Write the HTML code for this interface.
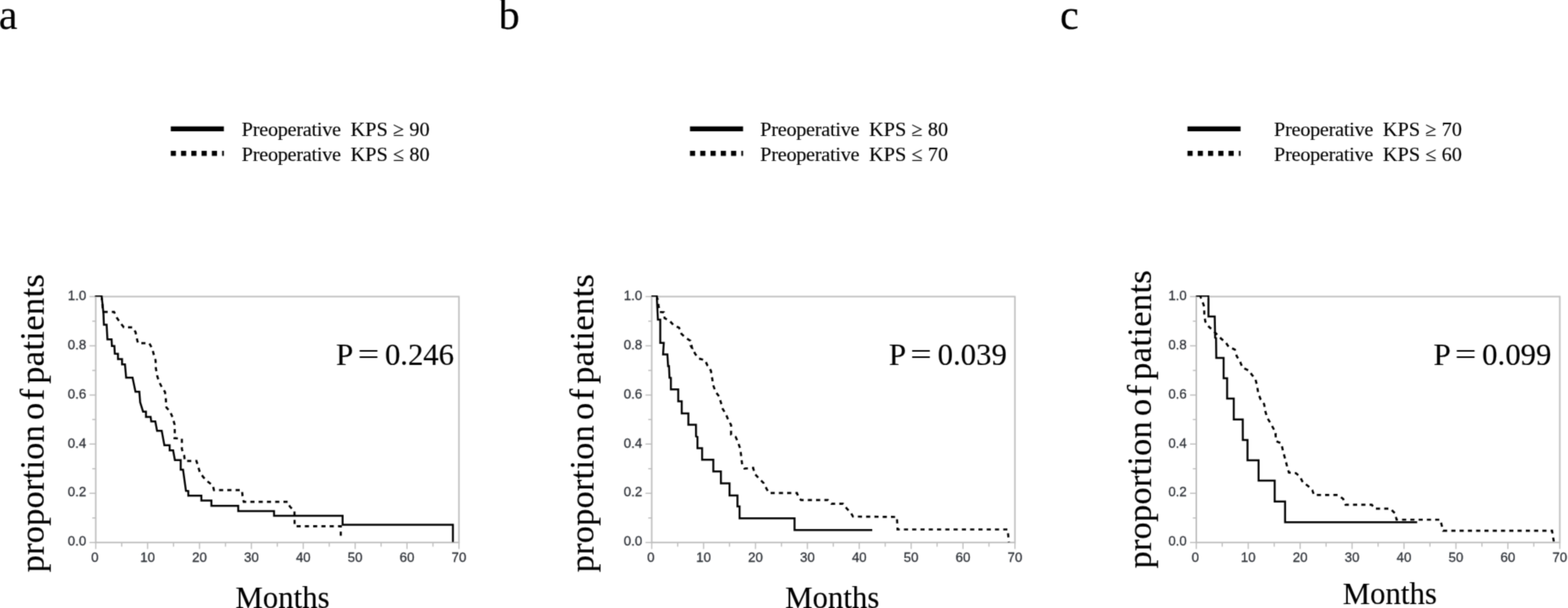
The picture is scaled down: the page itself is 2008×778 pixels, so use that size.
<!DOCTYPE html>
<html lang="en">
<head>
<meta charset="utf-8">
<title>Kaplan-Meier curves by preoperative KPS</title>
<style>
html,body{margin:0;padding:0;background:#fff;}
body{width:2008px;height:778px;overflow:hidden;}
svg{display:block;}
.serif{font-family:"Liberation Serif","DejaVu Serif",serif;fill:#000;stroke:#000;stroke-width:0.15;stroke-linejoin:round;}
.tick{font-family:"Liberation Sans","DejaVu Sans",sans-serif;font-size:17px;fill:#2f3339;stroke:#2f3339;stroke-width:0.3;}
.frame{fill:none;stroke:#bdbdbd;stroke-width:1.9;}
.tk{stroke:#bdbdbd;stroke-width:1.5;fill:none;}
.solid{fill:none;stroke:#000;stroke-width:2.5;stroke-linejoin:miter;stroke-linecap:butt;}
.dot{fill:none;stroke:#000;stroke-width:2.7;stroke-dasharray:5.3 5.3;stroke-linejoin:miter;}
</style>
</head>
<body>
<svg width="2008" height="778" viewBox="0 0 2008 778">
<defs><filter id="soft" x="0" y="0" width="2008" height="778" filterUnits="userSpaceOnUse"><feConvolveMatrix order="3" kernelMatrix="1 4 1 4 16 4 1 4 1" edgeMode="duplicate"/></filter></defs>
<rect x="0" y="0" width="2008" height="778" fill="#ffffff"/>
<g filter="url(#soft)">

<g>
<text class="serif" x="-1.6" y="37.4" font-size="54">a</text>
<line x1="218.7" y1="164.9" x2="286.7" y2="164.9" stroke="#000" stroke-width="6.1"/>
<line x1="218.7" y1="196.2" x2="286.7" y2="196.2" stroke="#000" stroke-width="6.4" stroke-dasharray="6.6 6.55"/>
<text class="serif" y="173.6" font-size="25.8"><tspan x="309.6" textLength="127.2" lengthAdjust="spacing">Preoperative</tspan> <tspan x="449.0" textLength="101.2" lengthAdjust="spacing">KPS ≥ 90</tspan></text>
<text class="serif" y="206.0" font-size="25.8"><tspan x="309.6" textLength="127.2" lengthAdjust="spacing">Preoperative</tspan> <tspan x="449.0" textLength="101.2" lengthAdjust="spacing">KPS ≤ 80</tspan></text>
<rect class="frame" x="122.6" y="379.5" width="465.1" height="314.70000000000005"/>
<path class="tk" d="M122.60,694.2 v8.4 M155.82,694.2 v5.2 M189.04,694.2 v8.4 M222.26,694.2 v5.2 M255.49,694.2 v8.4 M288.71,694.2 v5.2 M321.93,694.2 v8.4 M355.15,694.2 v5.2 M388.37,694.2 v8.4 M421.59,694.2 v5.2 M454.81,694.2 v8.4 M488.04,694.2 v5.2 M521.26,694.2 v8.4 M554.48,694.2 v5.2 M587.70,694.2 v8.4 M122.6,694.20 h-8.0 M122.6,662.73 h-4.4 M122.6,631.26 h-8.0 M122.6,599.79 h-4.4 M122.6,568.32 h-8.0 M122.6,536.85 h-4.4 M122.6,505.38 h-8.0 M122.6,473.91 h-4.4 M122.6,442.44 h-8.0 M122.6,410.97 h-4.4 M122.6,379.50 h-8.0"/>
<text class="tick" x="121.40" y="718.8" text-anchor="middle">0</text>
<text class="tick" x="189.04" y="718.8" text-anchor="middle">10</text>
<text class="tick" x="255.49" y="718.8" text-anchor="middle">20</text>
<text class="tick" x="321.93" y="718.8" text-anchor="middle">30</text>
<text class="tick" x="388.37" y="718.8" text-anchor="middle">40</text>
<text class="tick" x="454.81" y="718.8" text-anchor="middle">50</text>
<text class="tick" x="521.26" y="718.8" text-anchor="middle">60</text>
<text class="tick" x="587.70" y="718.8" text-anchor="middle">70</text>
<text class="tick" x="110.40" y="698.00" text-anchor="end">0.0</text>
<text class="tick" x="110.40" y="635.26" text-anchor="end">0.2</text>
<text class="tick" x="110.40" y="572.52" text-anchor="end">0.4</text>
<text class="tick" x="110.40" y="509.78" text-anchor="end">0.6</text>
<text class="tick" x="110.40" y="447.04" text-anchor="end">0.8</text>
<text class="tick" x="110.40" y="384.30" text-anchor="end">1.0</text>
<text class="serif" font-size="44.4" y="0" transform="translate(55.6,0) rotate(-90)"><tspan x="-732.6" textLength="188.6" lengthAdjust="spacing">proportion</tspan> <tspan x="-537.6" textLength="40.2" lengthAdjust="spacing">of</tspan> <tspan x="-491.2" textLength="140.6" lengthAdjust="spacing">patients</tspan></text>
<text class="serif" font-size="40" x="301.5" y="778.0" textLength="120.6" lengthAdjust="spacingAndGlyphs">Months</text>
<text class="serif" font-size="40" y="467.3"><tspan x="430.2">P</tspan> <tspan x="458.2" textLength="27.3" lengthAdjust="spacingAndGlyphs">=</tspan> <tspan x="492.9" textLength="88.6" lengthAdjust="spacingAndGlyphs">0.246</tspan></text>
<clipPath id="clip-a"><rect x="120.6" y="378.0" width="469.1" height="317.70000000000005"/></clipPath>
<g clip-path="url(#clip-a)">
<path class="dot" d="M130.04,378.52 L132.04,399.07 L146.08,399.07 L149.59,406.59 L154.10,413.10 L158.61,418.92 L169.64,418.92 L173.65,425.13 L175.15,432.65 L176.65,439.17 L191.19,439.17 L195.20,446.69 L196.65,452.70 L199.19,460.92 L199.64,471.37 L201.14,480.34 L203.38,487.81 L207.11,495.28 L211.29,501.55 L212.34,510.22 L213.09,521.42 L217.87,526.65 L221.30,534.87 L223.55,543.09 L223.84,552.05 L223.51,560.69 L232.92,561.43 L232.92,574.88 L235.91,583.10 L236.65,589.82 L251.59,589.82 L253.83,597.29 L256.08,604.76 L260.56,610.74 L265.79,615.97 L272.51,621.20 L274.00,627.17 L309.86,627.17 L310.61,634.64 L312.10,642.11 L368.87,642.11 L371.12,648.09 L377.09,654.06 L377.30,673.30 L436.40,673.30 L436.40,690.00"/>
<path class="solid" d="M121.52,378.52 L130.04,378.52 L131.54,391.05 L132.54,402.08 L133.05,415.61 L136.55,415.61 L137.56,434.16 L141.57,434.16 L142.90,434.20 L143.30,442.70 L146.50,442.70 L147.00,452.60 L151.09,452.70 L151.09,459.42 L156.31,459.42 L156.31,466.15 L160.05,466.15 L161.54,483.33 L169.76,483.33 L173.50,501.25 L178.43,501.25 L179.47,514.70 L183.21,526.65 L186.94,526.65 L186.94,533.38 L192.92,533.38 L193.67,539.35 L198.89,539.35 L201.14,551.30 L207.11,551.30 L210.51,569.65 L217.23,569.65 L217.23,576.37 L221.71,576.37 L223.95,588.63 L231.42,588.63 L231.42,601.03 L234.41,601.03 L238.15,628.07 L241.14,628.37 L241.14,634.34 L257.87,634.34 L257.87,640.62 L270.72,640.62 L270.72,647.34 L305.08,647.34 L305.08,654.06 L350.95,654.06 L350.95,660.04 L438.75,660.10 L438.75,671.60 L580.00,671.60 L580.00,694.00"/>
</g>
</g>
<g>
<text class="serif" x="638.4" y="37.4" font-size="54">b</text>
<line x1="883.6" y1="164.9" x2="951.6" y2="164.9" stroke="#000" stroke-width="6.1"/>
<line x1="883.6" y1="196.2" x2="951.6" y2="196.2" stroke="#000" stroke-width="6.4" stroke-dasharray="6.6 6.55"/>
<text class="serif" y="173.6" font-size="25.8"><tspan x="973.6" textLength="127.2" lengthAdjust="spacing">Preoperative</tspan> <tspan x="1113.0" textLength="101.2" lengthAdjust="spacing">KPS ≥ 80</tspan></text>
<text class="serif" y="206.0" font-size="25.8"><tspan x="973.6" textLength="127.2" lengthAdjust="spacing">Preoperative</tspan> <tspan x="1113.0" textLength="101.2" lengthAdjust="spacing">KPS ≤ 70</tspan></text>
<rect class="frame" x="834.6" y="379.5" width="465.1" height="314.70000000000005"/>
<path class="tk" d="M834.60,694.2 v8.4 M867.82,694.2 v5.2 M901.04,694.2 v8.4 M934.26,694.2 v5.2 M967.49,694.2 v8.4 M1000.71,694.2 v5.2 M1033.93,694.2 v8.4 M1067.15,694.2 v5.2 M1100.37,694.2 v8.4 M1133.59,694.2 v5.2 M1166.81,694.2 v8.4 M1200.04,694.2 v5.2 M1233.26,694.2 v8.4 M1266.48,694.2 v5.2 M1299.70,694.2 v8.4 M834.6,694.20 h-8.0 M834.6,662.73 h-4.4 M834.6,631.26 h-8.0 M834.6,599.79 h-4.4 M834.6,568.32 h-8.0 M834.6,536.85 h-4.4 M834.6,505.38 h-8.0 M834.6,473.91 h-4.4 M834.6,442.44 h-8.0 M834.6,410.97 h-4.4 M834.6,379.50 h-8.0"/>
<text class="tick" x="833.40" y="718.8" text-anchor="middle">0</text>
<text class="tick" x="901.04" y="718.8" text-anchor="middle">10</text>
<text class="tick" x="967.49" y="718.8" text-anchor="middle">20</text>
<text class="tick" x="1033.93" y="718.8" text-anchor="middle">30</text>
<text class="tick" x="1100.37" y="718.8" text-anchor="middle">40</text>
<text class="tick" x="1166.81" y="718.8" text-anchor="middle">50</text>
<text class="tick" x="1233.26" y="718.8" text-anchor="middle">60</text>
<text class="tick" x="1299.70" y="718.8" text-anchor="middle">70</text>
<text class="tick" x="822.40" y="698.00" text-anchor="end">0.0</text>
<text class="tick" x="822.40" y="635.26" text-anchor="end">0.2</text>
<text class="tick" x="822.40" y="572.52" text-anchor="end">0.4</text>
<text class="tick" x="822.40" y="509.78" text-anchor="end">0.6</text>
<text class="tick" x="822.40" y="447.04" text-anchor="end">0.8</text>
<text class="tick" x="822.40" y="384.30" text-anchor="end">1.0</text>
<text class="serif" font-size="44.4" y="0" transform="translate(760.1,0) rotate(-90)"><tspan x="-732.6" textLength="188.6" lengthAdjust="spacing">proportion</tspan> <tspan x="-537.6" textLength="40.2" lengthAdjust="spacing">of</tspan> <tspan x="-491.2" textLength="140.6" lengthAdjust="spacing">patients</tspan></text>
<text class="serif" font-size="40" x="1005.5" y="778.0" textLength="120.6" lengthAdjust="spacingAndGlyphs">Months</text>
<text class="serif" font-size="40" y="467.3"><tspan x="1138.2">P</tspan> <tspan x="1165.7" textLength="27.3" lengthAdjust="spacingAndGlyphs">=</tspan> <tspan x="1200.8" textLength="88.6" lengthAdjust="spacingAndGlyphs">0.039</tspan></text>
<clipPath id="clip-b"><rect x="832.6" y="378.0" width="469.1" height="317.70000000000005"/></clipPath>
<g clip-path="url(#clip-b)">
<path class="dot" d="M841.04,378.52 L842.04,382.03 L843.55,392.05 L845.05,399.27 L850.06,399.57 L851.07,407.09 L857.58,410.60 L862.59,416.11 L869.61,419.32 L872.62,427.14 L878.13,432.15 L884.15,436.16 L886.15,444.68 L885.74,444.48 L890.22,452.70 L894.70,458.68 L902.92,460.92 L905.91,467.64 L910.39,474.36 L911.88,483.33 L913.38,493.04 L916.36,501.25 L920.85,507.23 L923.09,514.70 L925.33,522.92 L929.81,530.39 L932.80,537.86 L936.24,543.83 L936.20,545.00 L936.20,556.21 L942.17,559.19 L945.16,565.92 L948.15,574.88 L949.34,585.34 L950.39,594.30 L953.38,599.53 L964.58,598.78 L966.37,606.25 L972.05,612.23 L978.03,618.21 L981.76,625.68 L984.75,630.91 L1020.61,630.91 L1022.85,636.88 L1025.84,639.87 L1060.20,639.87 L1064.68,644.65 L1079.62,644.65 L1084.10,650.33 L1090.08,657.05 L1092.32,660.94 L1148.60,661.50 L1149.40,677.50 L1290.40,677.50 L1292.00,694.00"/>
<path class="solid" d="M834.02,378.52 L841.04,378.52 L842.54,409.09 L845.55,409.09 L845.55,438.67 L850.06,438.67 L849.13,453.45 L854.66,453.45 L855.56,468.39 L856.75,468.39 L857.35,483.33 L859.14,483.63 L859.14,498.27 L868.56,498.27 L868.56,513.51 L873.04,513.51 L873.04,528.89 L881.55,528.89 L881.55,543.54 L891.26,543.54 L891.37,558.45 L893.17,559.19 L893.17,573.39 L899.14,573.39 L899.14,588.33 L913.49,588.33 L913.49,603.27 L923.20,603.27 L923.20,618.51 L934.25,618.51 L934.25,633.89 L944.41,633.89 L944.41,648.09 L947.10,648.09 L947.10,663.30 L1017.50,663.30 L1017.50,678.30 L1117.00,678.30"/>
</g>
</g>
<g>
<text class="serif" x="1357.4" y="37.4" font-size="54">c</text>
<line x1="1520.7" y1="164.9" x2="1588.7" y2="164.9" stroke="#000" stroke-width="6.1"/>
<line x1="1520.7" y1="196.2" x2="1588.7" y2="196.2" stroke="#000" stroke-width="6.4" stroke-dasharray="6.6 6.55"/>
<text class="serif" y="173.6" font-size="25.8"><tspan x="1631.6" textLength="127.2" lengthAdjust="spacing">Preoperative</tspan> <tspan x="1771.0" textLength="101.2" lengthAdjust="spacing">KPS ≥ 70</tspan></text>
<text class="serif" y="206.0" font-size="25.8"><tspan x="1631.6" textLength="127.2" lengthAdjust="spacing">Preoperative</tspan> <tspan x="1771.0" textLength="101.2" lengthAdjust="spacing">KPS ≤ 60</tspan></text>
<rect class="frame" x="1532.0" y="379.5" width="465.5" height="314.70000000000005"/>
<path class="tk" d="M1532.00,694.2 v8.4 M1565.25,694.2 v5.2 M1598.50,694.2 v8.4 M1631.75,694.2 v5.2 M1665.00,694.2 v8.4 M1698.25,694.2 v5.2 M1731.50,694.2 v8.4 M1764.75,694.2 v5.2 M1798.00,694.2 v8.4 M1831.25,694.2 v5.2 M1864.50,694.2 v8.4 M1897.75,694.2 v5.2 M1931.00,694.2 v8.4 M1964.25,694.2 v5.2 M1997.50,694.2 v8.4 M1532.0,694.20 h-8.0 M1532.0,662.73 h-4.4 M1532.0,631.26 h-8.0 M1532.0,599.79 h-4.4 M1532.0,568.32 h-8.0 M1532.0,536.85 h-4.4 M1532.0,505.38 h-8.0 M1532.0,473.91 h-4.4 M1532.0,442.44 h-8.0 M1532.0,410.97 h-4.4 M1532.0,379.50 h-8.0"/>
<text class="tick" x="1530.80" y="718.8" text-anchor="middle">0</text>
<text class="tick" x="1598.50" y="718.8" text-anchor="middle">10</text>
<text class="tick" x="1665.00" y="718.8" text-anchor="middle">20</text>
<text class="tick" x="1731.50" y="718.8" text-anchor="middle">30</text>
<text class="tick" x="1798.00" y="718.8" text-anchor="middle">40</text>
<text class="tick" x="1864.50" y="718.8" text-anchor="middle">50</text>
<text class="tick" x="1931.00" y="718.8" text-anchor="middle">60</text>
<text class="tick" x="1997.50" y="718.8" text-anchor="middle">70</text>
<text class="tick" x="1519.80" y="698.00" text-anchor="end">0.0</text>
<text class="tick" x="1519.80" y="635.26" text-anchor="end">0.2</text>
<text class="tick" x="1519.80" y="572.52" text-anchor="end">0.4</text>
<text class="tick" x="1519.80" y="509.78" text-anchor="end">0.6</text>
<text class="tick" x="1519.80" y="447.04" text-anchor="end">0.8</text>
<text class="tick" x="1519.80" y="384.30" text-anchor="end">1.0</text>
<text class="serif" font-size="44.4" y="0" transform="translate(1474.2,-5) rotate(-90)"><tspan x="-732.6" textLength="188.6" lengthAdjust="spacing">proportion</tspan> <tspan x="-537.6" textLength="40.2" lengthAdjust="spacing">of</tspan> <tspan x="-491.2" textLength="140.6" lengthAdjust="spacing">patients</tspan></text>
<text class="serif" font-size="40" x="1719.5" y="773.2" textLength="120.6" lengthAdjust="spacingAndGlyphs">Months</text>
<text class="serif" font-size="40" y="467.3"><tspan x="1835.8">P</tspan> <tspan x="1863.2" textLength="27.3" lengthAdjust="spacingAndGlyphs">=</tspan> <tspan x="1898.1" textLength="88.6" lengthAdjust="spacingAndGlyphs">0.099</tspan></text>
<clipPath id="clip-c"><rect x="1530.0" y="378.0" width="469.5" height="317.70000000000005"/></clipPath>
<g clip-path="url(#clip-c)">
<path class="dot" d="M1535.04,378.52 L1537.04,379.02 L1539.55,385.03 L1542.06,392.05 L1542.26,403.08 L1543.56,411.60 L1548.07,418.12 L1553.58,423.13 L1559.10,428.64 L1564.11,433.65 L1569.62,438.17 L1573.63,444.18 L1581.15,447.19 L1581.48,447.47 L1583.73,455.69 L1588.21,463.16 L1591.20,470.63 L1599.41,474.06 L1603.15,479.59 L1607.63,484.82 L1609.87,493.78 L1611.36,503.50 L1614.35,510.97 L1618.83,516.94 L1620.33,525.91 L1622.57,534.12 L1627.05,541.59 L1630.79,548.32 L1633.77,555.04 L1633.44,555.46 L1634.18,564.42 L1640.91,567.41 L1643.15,577.87 L1646.14,588.33 L1648.38,597.29 L1650.62,604.76 L1659.58,605.51 L1664.81,609.99 L1668.55,617.46 L1675.27,621.94 L1680.50,627.17 L1682.74,633.45 L1713.37,633.45 L1720.09,638.38 L1723.08,645.85 L1756.69,645.85 L1760.43,650.78 L1780.60,650.78 L1783.59,654.06 L1786.57,657.05 L1788.50,665.00 L1844.50,665.00 L1848.00,679.20 L1987.60,679.20 L1990.00,694.00"/>
<path class="solid" d="M1531.53,378.52 L1547.57,378.52 L1547.57,405.08 L1555.59,405.08 L1556.09,432.15 L1557.29,432.65 L1557.58,457.93 L1566.99,457.93 L1566.99,484.07 L1571.47,484.07 L1571.47,509.92 L1579.99,509.92 L1579.99,536.81 L1591.49,536.81 L1591.60,562.93 L1597.58,562.93 L1597.58,589.07 L1611.77,589.07 L1611.77,614.92 L1632.39,614.92 L1632.39,641.81 L1645.69,641.81 L1645.70,668.20 L1814.80,668.20"/>
</g>
</g>
</g>
</svg>
</body>
</html>
